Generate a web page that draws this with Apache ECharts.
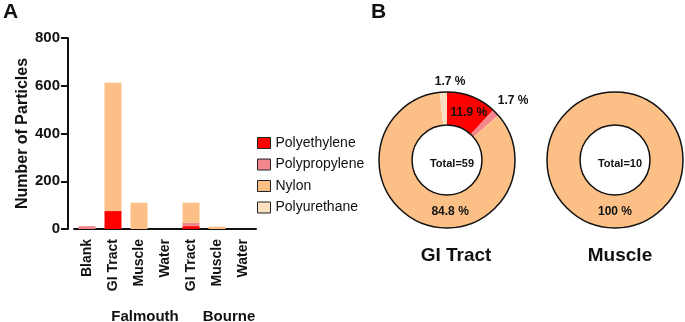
<!DOCTYPE html>
<html>
<head>
<meta charset="utf-8">
<script src="https://cdn.jsdelivr.net/npm/echarts@6/dist/echarts.min.js"></script>
<style>
  html, body { margin: 0; padding: 0; background: #fff; }
  #chart { width: 685px; height: 322px; }
</style>
</head>
<body>
<div id="chart"></div>
<script>
  // panel A: stacked particle counts
  const categories = ['Blank', 'GI Tract', 'Muscle', 'Water', 'GI Tract', 'Muscle', 'Water'];
  const polymers = ['Polyethylene', 'Polypropylene', 'Nylon', 'Polyurethane'];
  const polyethylene = [0, 75, 0, 0, 12, 0, 0];
  const polypropylene = [12, 0, 0, 0, 14, 0, 0];
  const nylon = [0, 538, 110, 0, 84, 10, 0];
  const polyurethane = [0, 0, 0, 0, 0, 0, 0];
  const yTicks = [0, 200, 400, 600, 800];
  const sites = ['Falmouth', 'Bourne'];

  // panel B: donut percentages
  const giTractPct = [11.9, 1.7, 84.8, 1.7];
  const musclePct = [0, 0, 100, 0];
  const donutTitles = ['GI Tract', 'Muscle'];
  const donutTotals = [59, 10];

  const colors = ['#ff0000', '#f4868b', '#fcc087', '#fde0c2'];
  const font = 'Liberation Sans, Arial, sans-serif';
  const ink = '#111';

  const chart = echarts.init(document.getElementById('chart'));

  const barSeries = [polyethylene, polypropylene, nylon, polyurethane].map((d, i) => ({
    name: polymers[i],
    type: 'bar',
    stack: 'total',
    barWidth: 17,
    itemStyle: { color: colors[i] },
    data: d,
  }));

  // label nudges for the donut slices
  const giLabelOffsets = [[2, 3], [27, -21], [23, 1], [6, -24]];
  const muscleLabelOffsets = [[0, 0], [0, 0], [0, -3], [0, 0]];

  const donut = (pcts, center, offsets) => ({
    type: 'pie',
    radius: [35, 68],
    center: center,
    startAngle: 90,
    clockwise: true,
    silent: true,
    avoidLabelOverlap: false,
    labelLine: { show: false },
    itemStyle: { borderWidth: 0 },
    label: {
      show: true,
      position: 'inside',
      color: ink,
      fontFamily: font,
      fontWeight: 'bold',
      fontSize: 12,
      formatter: (p) => p.value + ' %',
    },
    data: pcts
      .map((v, i) => ({
        value: v,
        name: polymers[i],
        itemStyle: { color: colors[i] },
        label: { offset: offsets[i] },
      }))
      .filter((d) => d.value > 0),
  });

  // black outline round each donut
  const ring = (center) => ({
    type: 'pie',
    radius: [35, 68],
    center: center,
    silent: true,
    label: { show: false },
    labelLine: { show: false },
    itemStyle: { color: 'transparent', borderColor: ink, borderWidth: 1.5 },
    data: [1],
  });

  const boldText = (size) => ({ fontSize: size, fontWeight: 'bold', color: ink, fontFamily: font });

  const option = {
    animation: false,
    textStyle: { fontFamily: font },
    grid: { left: 74, top: 38, width: 182, height: 191 },
    legend: {
      data: polymers,
      orient: 'vertical',
      left: 252,
      top: 130,
      icon: 'rect',
      itemWidth: 13,
      itemHeight: 11,
      itemGap: 5.5,
      itemStyle: { borderColor: '#222', borderWidth: 1 },
      textStyle: { fontSize: 14, color: ink, fontFamily: font, lineHeight: 16 },
    },
    xAxis: {
      type: 'category',
      data: categories,
      axisLine: { lineStyle: { color: ink, width: 2 } },
      axisTick: { alignWithLabel: true, length: 7, lineStyle: { color: ink, width: 2 } },
      axisLabel: Object.assign({ rotate: 90, interval: 0, margin: 10 }, boldText(14)),
    },
    yAxis: {
      type: 'value',
      min: yTicks[0],
      max: yTicks[yTicks.length - 1],
      interval: 200,
      offset: 6,
      name: 'Number of Particles',
      nameLocation: 'middle',
      nameGap: 37,
      nameTextStyle: boldText(16),
      axisLine: { show: true, lineStyle: { color: ink, width: 2 } },
      axisTick: { show: true, length: 7, lineStyle: { color: ink, width: 2 } },
      splitLine: { show: false },
      axisLabel: Object.assign({ margin: 8 }, boldText(15)),
    },
    title: [
      { text: 'A', left: 3, top: 2, padding: 0, textStyle: boldText(21) },
      { text: 'B', left: 371, top: 2, padding: 0, textStyle: boldText(21) },
      { text: sites[0], left: 140, top: 304, textAlign: 'center', textStyle: boldText(15) },
      { text: sites[1], left: 224, top: 304, textAlign: 'center', textStyle: boldText(15) },
      { text: donutTitles[0], left: 451, top: 241, textAlign: 'center', textStyle: boldText(19) },
      { text: donutTitles[1], left: 615, top: 241, textAlign: 'center', textStyle: boldText(19) },
      { text: 'Total=' + donutTotals[0], left: 447, top: 153, textAlign: 'center', textStyle: boldText(11) },
      { text: 'Total=' + donutTotals[1], left: 615, top: 153, textAlign: 'center', textStyle: boldText(11) },
    ],
    series: [
      ...barSeries,
      donut(giTractPct, [447, 160], giLabelOffsets),
      donut(musclePct, [615, 160], muscleLabelOffsets),
      ring([447, 160]),
      ring([615, 160]),
    ],
  };

  chart.setOption(option);
</script>
</body>
</html>
